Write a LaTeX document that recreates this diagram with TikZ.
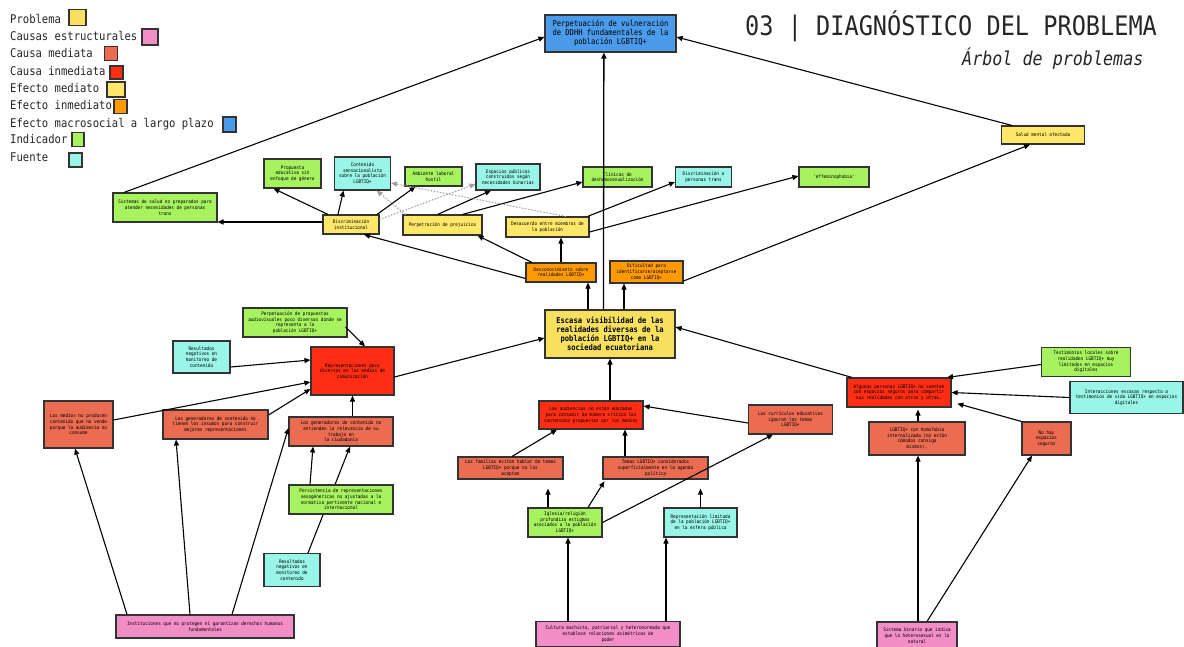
\documentclass[tikz,border=0pt]{standalone}
\usepackage{fontspec}
\setmainfont{DejaVu Sans}
\newfontfamily\mono{DejaVu Sans Mono}[FakeStretch=0.88]
\usetikzlibrary{arrows.meta,calc}
\pgfdeclarelayer{background}
\pgfsetlayers{background,main}
\definecolor{cprob}{HTML}{F6E05E}
\definecolor{cpink}{HTML}{F28DC6}
\definecolor{csalmon}{HTML}{EC6C52}
\definecolor{cred}{HTML}{FF2D14}
\definecolor{cyel}{HTML}{FFE76A}
\definecolor{corange}{HTML}{FF9A05}
\definecolor{cblue}{HTML}{4A9BEA}
\definecolor{cgreen}{HTML}{A6F25F}
\definecolor{ccyan}{HTML}{98F5E7}
\definecolor{boxline}{HTML}{333333}
\tikzset{
  bx/.style={draw=boxline, line width=1.1pt, align=center, inner sep=0pt,
    font=\mono\fontsize{4.9}{5.7}\selectfont},
  bigbx/.style={bx, font=\mono\fontsize{8.1}{9}\selectfont},
  lgbox/.style={draw=boxline, line width=1.1pt, inner sep=0pt},
  lgtext/.style={anchor=mid west, inner sep=0pt, font=\mono\fontsize{12}{14}\selectfont, text=black!85},
  ar/.style={-{Triangle[length=6pt,width=5pt]}, line width=1.1pt, draw=black},
  dar/.style={-{Triangle[length=6pt,width=5pt]}, line width=1.1pt, draw=gray!75, fill=gray!75, dotted}
}
\begin{document}
\begin{tikzpicture}[x=1pt,y=1pt]
\useasboundingbox (0,0) rectangle (1184,-646);
\begin{pgfonlayer}{background}
\fill[white] (0,0) rectangle (1184,-646);
\end{pgfonlayer}

% ---------- legend ----------
\node[lgtext] (l1) at (10,-20.5) {Problema};
\node[lgbox, fill=cprob, minimum width=17, minimum height=16] (b1) at (77.5,-17.5) {};
\node[lgtext] (l2) at (10,-38) {Causas estructurales};
\node[lgbox, fill=cpink, minimum width=16, minimum height=16] (b2) at (150,-37) {};
\node[lgtext] (l3) at (10,-55) {Causa mediata};
\node[lgbox, fill=csalmon, minimum width=13, minimum height=14] (b3) at (111,-53.5) {};
\node[lgtext] (l4) at (10,-72.5) {Causa inmediata};
\node[lgbox, fill=cred, minimum width=13, minimum height=13] (b4) at (116.5,-72.5) {};
\node[lgtext] (l5) at (10,-89.5) {Efecto mediato};
\node[lgbox, fill=cyel, minimum width=18, minimum height=15] (b5) at (116,-89.5) {};
\node[lgtext] (l6) at (10,-107) {Efecto inmediato};
\node[lgbox, fill=corange, minimum width=13, minimum height=14] (b6) at (120.5,-106.5) {};
\node[lgtext] (l7) at (10,-124.5) {Efecto macrosocial a largo plazo};
\node[lgbox, fill=cblue, minimum width=13, minimum height=15] (b7) at (229.5,-124.5) {};
\node[lgtext] (l8) at (10,-141) {Indicador};
\node[lgbox, fill=cgreen, minimum width=12, minimum height=14] (b8) at (78,-139.5) {};
\node[lgtext] (l9) at (10,-158.5) {Fuente};
\node[lgbox, fill=ccyan, minimum width=13, minimum height=14] (b9) at (75.5,-160) {};

% ---------- title ----------
\node[anchor=mid west, inner sep=0pt, font=\mono\fontsize{26.8}{30}\selectfont, text=black!85] (title) at (745,-33) {03 | DIAGNÓSTICO DEL PROBLEMA};
\node[anchor=mid west, inner sep=0pt, font=\mono\itshape\fontsize{19}{22}\selectfont, text=black!85] (subtitle) at (962,-63) {Árbol de problemas};

% ---------- nodes ----------
\node[bigbx, fill=cblue, minimum width=131, minimum height=37] (top) at (610.5,-33.5) {Perpetuación de vulneración\\de DDHH fundamentales de la\\población LGBTIQ+};

\node[bx, fill=cgreen, minimum width=104, minimum height=29] (sist) at (165,-207.5) {Sistemas de salud no preparados para\\atender necesidades de personas\\trans};
\node[bx, fill=cgreen, minimum width=57, minimum height=29] (prop) at (292.5,-173.5) {Propuesta\\educativa sin\\enfoque de género};
\node[bx, fill=ccyan, minimum width=56, minimum height=33] (cont) at (362.5,-173.5) {Contenido\\sensacionalista\\sobre la población\\LGBTIQ+};
\node[bx, fill=cgreen, minimum width=57, minimum height=19] (amb) at (433.5,-176.5) {Ambiente laboral\\hostil};
\node[bx, fill=ccyan, minimum width=64, minimum height=26] (esp) at (508,-177) {Espacios públicos\\construidos según\\necesidades binarias};
\node[bx, fill=cgreen, minimum width=69, minimum height=20] (clin) at (617.5,-177) {Clínicas de\\deshomosexualización};
\node[bx, fill=ccyan, minimum width=56, minimum height=20] (dtrans) at (703.5,-177) {Discriminación a\\personas trans};
\node[bx, fill=cgreen, minimum width=70, minimum height=20] (eff) at (834,-177) {'effeminophobia'};
\node[bx, fill=cyel, minimum width=83, minimum height=18] (salud) at (1043,-135) {Salud mental afectada};

\node[bx, fill=cyel, minimum width=56, minimum height=19] (disc) at (351,-224.5) {Discriminación\\institucional};
\node[bx, fill=cyel, minimum width=79, minimum height=20] (perp) at (442.5,-225) {Perpetración de prejuicios};
\node[bx, fill=cyel, minimum width=83, minimum height=20] (desac) at (547.5,-227) {Desacuerdo entre miembros de\\la población};

\node[bx, fill=corange, minimum width=70, minimum height=19] (desc) at (561,-272.5) {Desconocimiento sobre\\realidades LGBTIQ+};
\node[bx, fill=corange, minimum width=73, minimum height=22] (dif) at (646.5,-272) {Dificultad para\\identificarse/aceptarse\\como LGBTIQ+};

\node[bigbx, fill=cprob, font=\mono\bfseries\fontsize{8.1}{9}\selectfont, minimum width=130, minimum height=48] (esc) at (610,-334) {Escasa visibilidad de las\\realidades diversas de la\\población LGBTIQ+ en la\\sociedad ecuatoriana};

% left branch
\node[bx, fill=cgreen, minimum width=104, minimum height=29] (pprop) at (295,-322.5) {Perpetuación de propuestas\\audiovisuales poco diversas donde se\\representa a la\\población LGBTIQ+};
\node[bx, fill=ccyan, minimum width=57, minimum height=32] (res1) at (201.5,-357) {Resultados\\negativos en\\monitoreo de\\contenido};
\node[bx, fill=cred, minimum width=83, minimum height=48] (repr) at (352.5,-371) {Representaciones poco\\diversas en los medios de\\comunicación};
\node[bx, fill=csalmon, minimum width=69, minimum height=47] (medios) at (78.5,-424.5) {Los medios no producen\\contenido que no vende\\porque la audiencia no\\consume};
\node[bx, fill=csalmon, minimum width=105, minimum height=29] (gins) at (215.5,-424.5) {Los generadores de contenido no\\tienen los insumos para construir\\mejores representaciones};
\node[bx, fill=csalmon, minimum width=104, minimum height=29] (gent) at (341,-431.5) {Los generadores de contenido no\\entienden la relevancia de su\\trabajo en\\la ciudadanía};
\node[bx, fill=cgreen, minimum width=104, minimum height=29] (pers) at (341,-499.5) {Persistencia de representaciones\\sexogénericas no ajustadas a la\\normativa pertinente nacional e\\internacional};
\node[bx, fill=ccyan, minimum width=56, minimum height=33] (res2) at (292,-570) {Resultados\\negativos en\\monitoreo de\\contenido};
\node[bx, fill=cpink, minimum width=178, minimum height=23] (inst) at (205,-626.5) {Instituciones que no protegen ni garantizan derechos humanos\\fundamentales};

% center branch
\node[bx, fill=cred, minimum width=104, minimum height=28] (aud) at (591,-415) {Las audiencias no están educadas\\para consumir de manera crítica los\\contenidos propuestos por los medios};
\node[bx, fill=csalmon, minimum width=84, minimum height=29] (curr) at (790.5,-419.5) {Los currículos educativos\\ignoran los temas\\LGBTIQ+};
\node[bx, fill=csalmon, minimum width=105, minimum height=22] (fam) at (510.5,-468) {Las familias evitan hablar de temas\\LGBTIQ+ porque no los\\aceptan};
\node[bx, fill=csalmon, minimum width=105, minimum height=22] (temas) at (655.5,-468) {Temas LGBTIQ+ considerados\\superficialmente en la agenda\\política};
\node[bx, fill=cgreen, minimum width=74, minimum height=29] (igl) at (565,-522.5) {Iglesia/religión\\profundiza estigmas\\asociados a la población\\LGBTIQ+};
\node[bx, fill=ccyan, minimum width=73, minimum height=29] (rlim) at (700.5,-522.5) {Representación limitada\\de la población LGBTIQ+\\en la esfera pública};
\node[bx, fill=cpink, minimum width=144, minimum height=25] (cult) at (608,-634) {Cultura machista, patriarcal y heteronormada que\\establece relaciones asimétricas de\\poder};

% right branch
\node[bx, fill=cred, minimum width=104, minimum height=29] (alg) at (899,-392.5) {Algunas personas LGBTIQ+ no cuentan\\con espacios seguros para compartir\\sus realidades con otros y otras.};
\node[bx, fill=cgreen, minimum width=89, minimum height=29] (test) at (1086,-362) {Testimonios locales sobre\\realidades LGBTIQ+ muy\\limitados en espacios\\digitales};
\node[bx, fill=ccyan, minimum width=113, minimum height=32] (inter) at (1126.5,-397.5) {Interacciones escasas respecto a\\testimonios de vida LGBTIQ+ en espacios\\digitales};
\node[bx, fill=csalmon, minimum width=96, minimum height=33] (homo) at (917,-438.5) {LGBTIQ+ con homofobia\\internalizada (no están\\cómodos consigo\\mismos).};
\node[bx, fill=csalmon, minimum width=49, minimum height=33] (nohay) at (1046.5,-438.5) {No hay\\espacios\\seguros};
\node[bx, fill=cpink, minimum width=80, minimum height=27] (binario) at (917,-635.5) {Sistema binario que indica\\que lo heterosexual es lo\\natural};

% ---------- connectors ----------
% to top
\draw[ar] ([xshift=-41]sist.north) -- ([yshift=-3.5]top.west);
\draw[ar] ([xshift=-31]salud.north) -- ([yshift=-3.5]top.east);
\draw[ar, line width=1.3pt] ([xshift=-6.6]esc.north) -- ([xshift=-6.6]top.south);
% esc to immediate effects
\draw[ar] ([xshift=-22]esc.north) -- ([xshift=-22]esc.north |- desc.south);
\draw[ar] ([xshift=14]esc.north) -- ([xshift=14]esc.north |- dif.south);
% desconocimiento
\draw[ar] (desc.north) -- (desc.north |- desac.south);
\draw[ar] ([xshift=-29]desc.north) -- ([xshift=35]perp.south);
\draw[ar] ([yshift=-6]desc.west) -- ([xshift=13]disc.south);
% dificultad
\draw[ar] ([yshift=-9]dif.east) -- ([xshift=-13]salud.south);
% discriminacion institucional
\draw[ar] ([yshift=2.5]disc.west) -- ([yshift=2.5]disc.west -| sist.east);
\draw[ar] ([xshift=-23]disc.north) -- ([xshift=-19]prop.south);
\draw[ar] ([xshift=-13]disc.north) -- ([xshift=-19]cont.south);
\draw[ar] ([xshift=26]disc.north) -- ([xshift=-18]amb.south);
\draw[dar] ([yshift=5]disc.east) -- ([yshift=-7]esp.west);
% perpetracion
\draw[dar] ([xshift=-37]perp.north) -- ([xshift=14]cont.south);
\draw[ar] ([xshift=-5]perp.north) -- ([xshift=-17]esp.south);
\draw[ar] ([xshift=20]perp.north) -- ([yshift=-5]clin.west);
% desacuerdo
\draw[dar] ([xshift=18.5]desac.north) -- ([yshift=-9.5]cont.east);
\draw[ar] ([xshift=40]desac.north) -- ([yshift=-5]dtrans.west);
\draw[ar] ([yshift=-5]desac.east) -- ([yshift=1]eff.west);
% left branch
\draw[ar] ([xshift=-2,yshift=-4.5]pprop.east) -- ([xshift=12.5]repr.north);
\draw[ar] ([yshift=-10]res1.east) -- ([yshift=11]repr.west);
\draw[ar] ([yshift=-6]repr.east) -- ([yshift=-4]esc.west);
\draw[ar] ([yshift=4.5]medios.east) -- ([yshift=-11]repr.west);
\draw[ar] ([yshift=9.5]gins.east) -- ([yshift=-18]repr.west);
\draw[ar] (gent.north -| repr.south) -- (repr.south);
\draw[ar] ([xshift=-31]pers.north) -- ([xshift=-28]gent.south);
\begin{pgfonlayer}{background}
\draw[ar] ([xshift=16]res2.north) -- ([xshift=9]gent.south);
\end{pgfonlayer}
\draw[ar] ([xshift=-78]inst.north) -- ([xshift=-3.5]medios.south);
\draw[ar] ([xshift=-15]inst.north) -- ([xshift=-39.5]gins.south);
\draw[ar] ([xshift=27]inst.north) -- ([yshift=3.5]gent.west);
% center branch
\draw[ar] (aud.north -| esc.south) -- (esc.south);
\draw[ar] ([yshift=-3.5]curr.west) -- ([yshift=9]aud.east);
\draw[ar] ([xshift=1.5]fam.north) -- ([xshift=-34]aud.south);
\draw[ar] ([xshift=-30.5]temas.north) -- ([xshift=-30.5]temas.north |- aud.south);
\draw[ar, shorten >=9pt] ([xshift=-17]igl.north) -- ([xshift=-17]igl.north |- fam.south);
\draw[ar, shorten >=2pt] ([xshift=23]igl.north) -- ([xshift=-50]temas.south);
\draw[ar] (igl.east) -- ([xshift=-17.5]curr.south);
\draw[ar, shorten >=9pt] (rlim.north) -- (rlim.north |- temas.south);
\draw[ar] ([xshift=3]igl.south |- cult.north) -- ([xshift=3]igl.south);
\draw[ar] ([xshift=-34.5]rlim.south |- cult.north) -- ([xshift=-34.5]rlim.south);
% right branch
\draw[ar] ([xshift=-47]alg.north) -- ([yshift=7]esc.east);
\draw[ar] ([yshift=-2.5]test.west) -- ([xshift=48]alg.north);
\draw[ar] (inter.west) -- (alg.east);
\draw[ar, shorten >=6pt] (nohay.north west) -- ([yshift=-9.5]alg.east);
\draw[ar, shorten >=2pt] ([xshift=1]homo.north) -- ([xshift=1]homo.north |- alg.south);
\draw[ar] ([xshift=1]binario.north) -- ([xshift=1]homo.south);
\draw[ar] ([xshift=10]binario.north) -- ([xshift=-14.5]nohay.south);
\end{tikzpicture}
\end{document}
